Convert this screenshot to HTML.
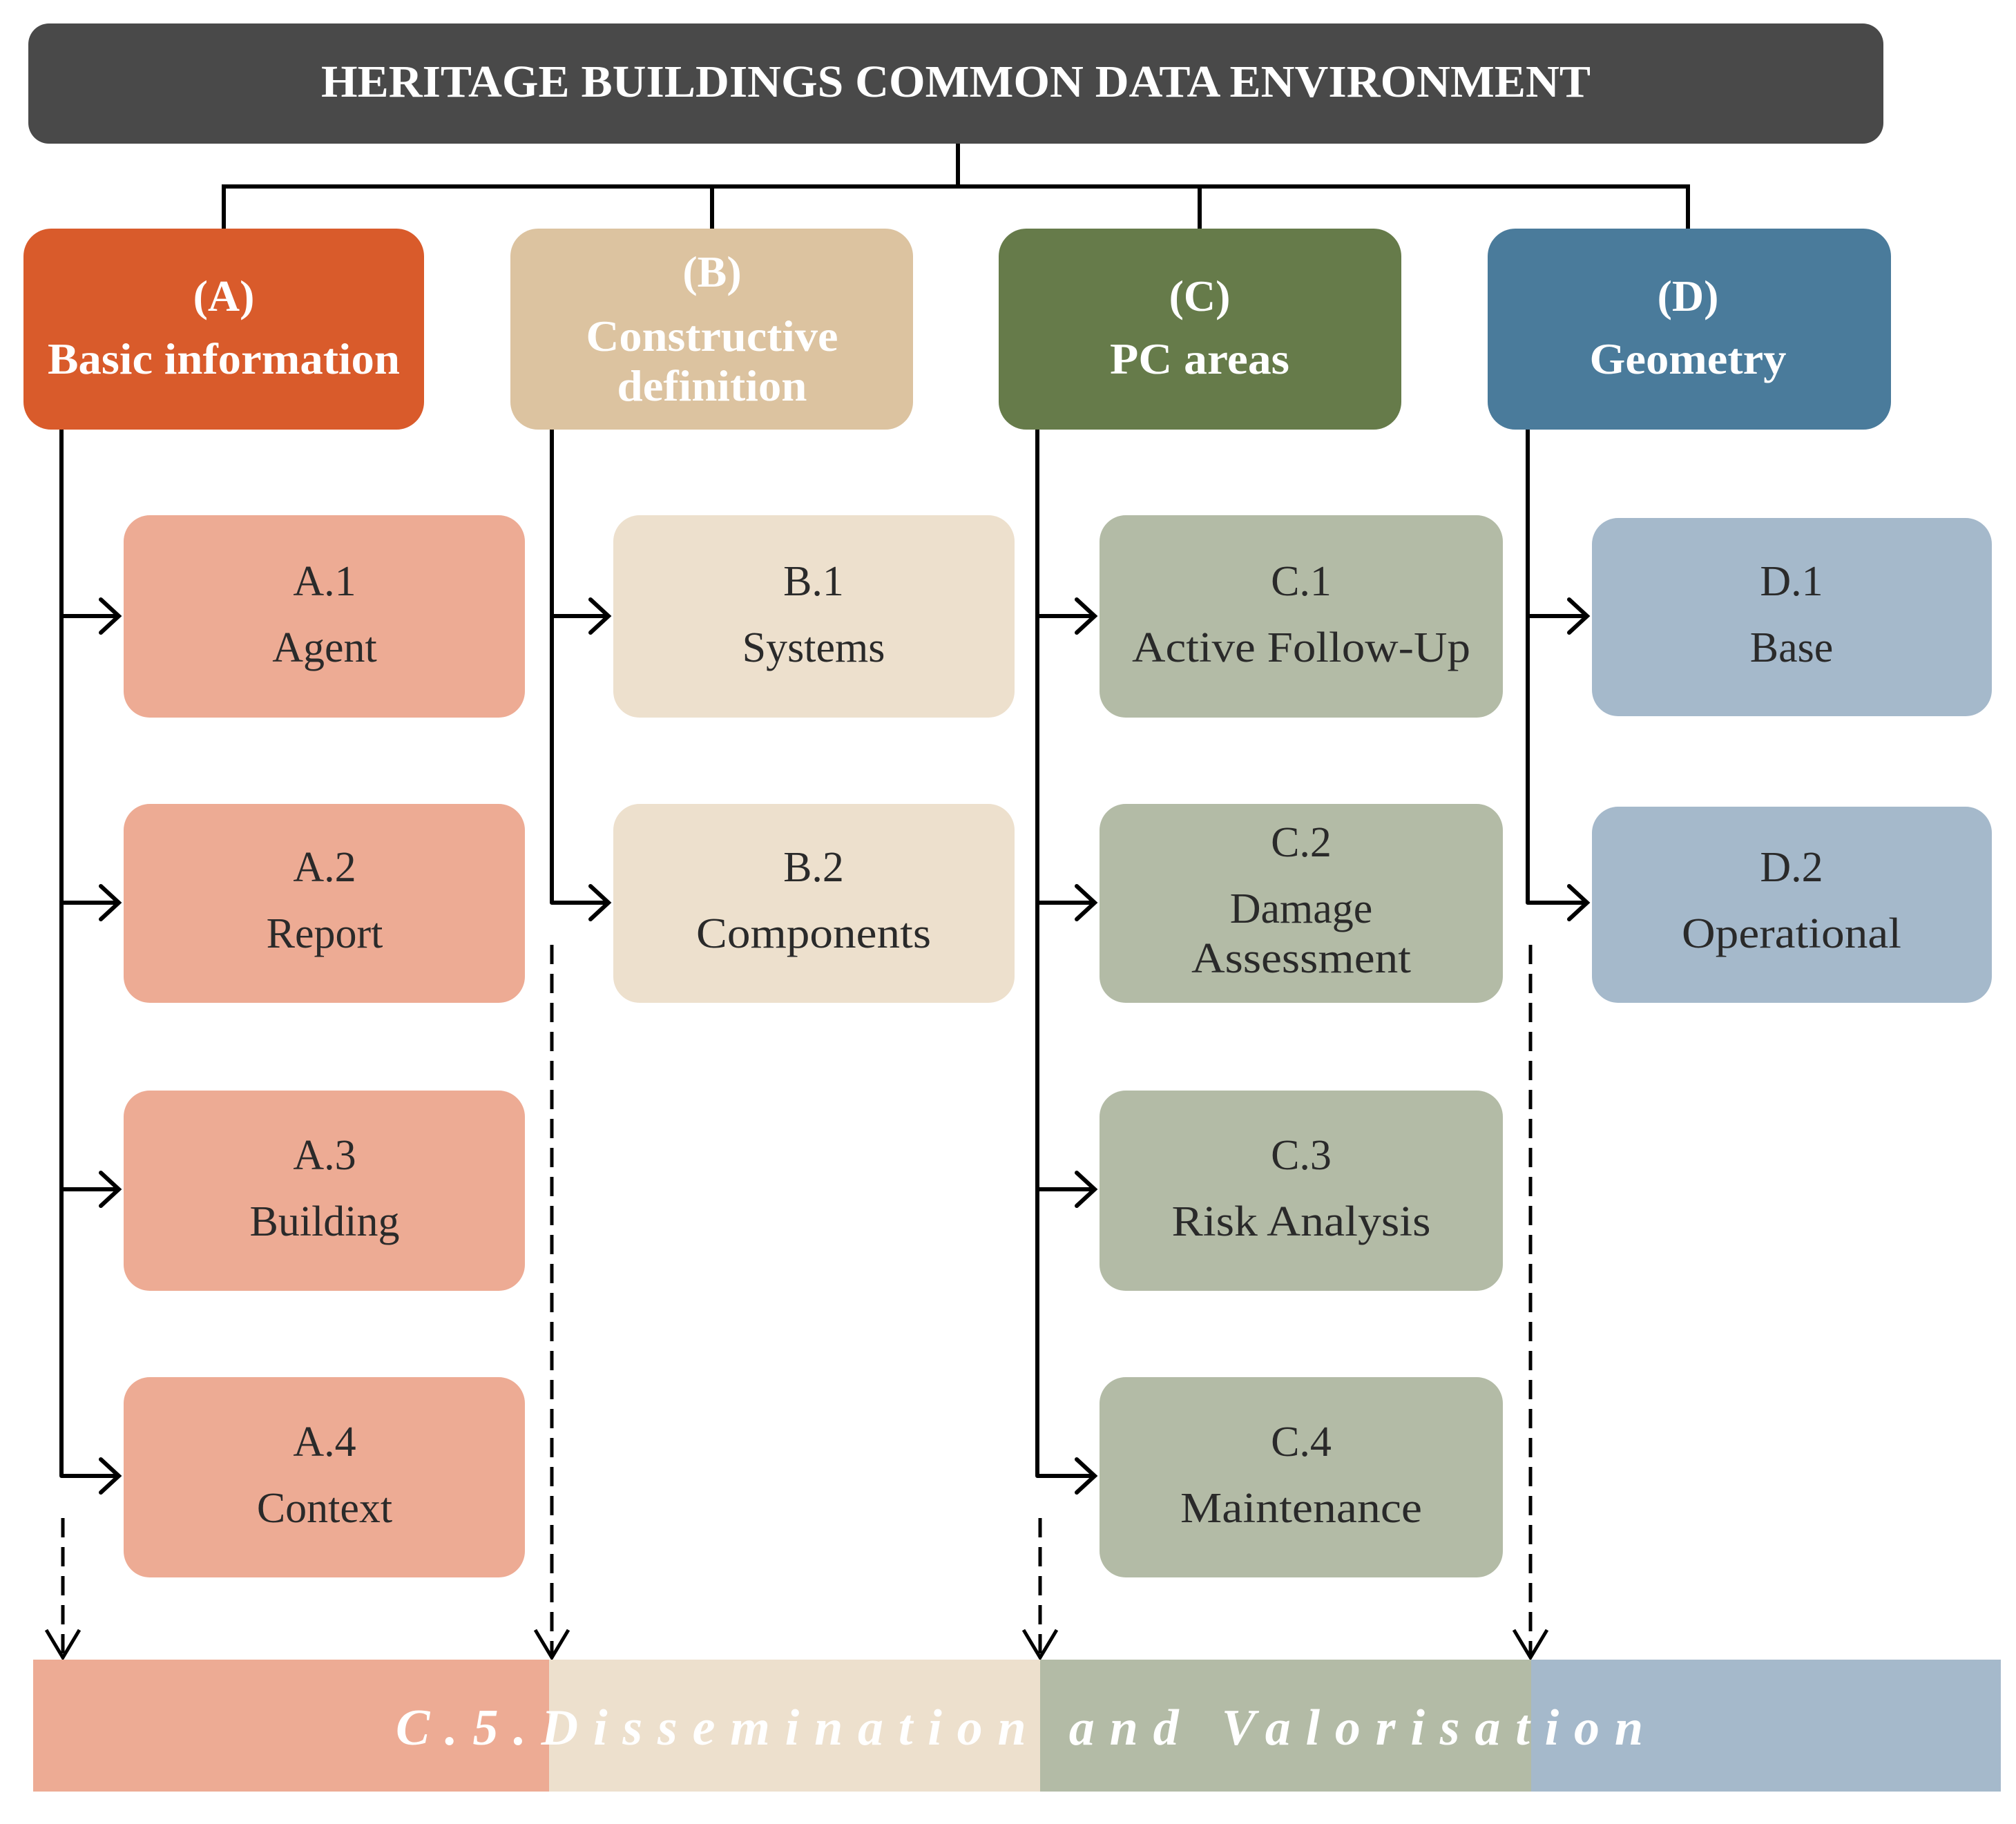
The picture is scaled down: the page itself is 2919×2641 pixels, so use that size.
<!DOCTYPE html>
<html><head><meta charset="utf-8"><style>html,body{margin:0;padding:0;background:#fff}svg{display:block}</style></head>
<body>
<svg xmlns="http://www.w3.org/2000/svg" width="2919" height="2641" viewBox="0 0 2919 2641">
<defs>
<marker id="ah" viewBox="0 0 20 20" refX="18" refY="10" markerWidth="7" markerHeight="7" markerUnits="userSpaceOnUse" orient="auto" overflow="visible">
<path d="M-18,-16 L18,10 L-18,36" fill="none" stroke="#000" stroke-width="5"/>
</marker>
</defs>
<!-- header -->
<rect x="41" y="34" width="2686" height="174" rx="30" fill="#494949"/>
<text x="1384" y="140" font-family="Liberation Serif, serif" font-weight="bold" font-size="66" fill="#fff" text-anchor="middle" textLength="1838" lengthAdjust="spacingAndGlyphs">HERITAGE BUILDINGS COMMON DATA ENVIRONMENT</text>
<!-- top connectors -->
<g stroke="#000" stroke-width="6" fill="none">
<path d="M1387,208 V270 M324,270 H2444 M324,267 V331 M1031,267 V331 M1737,267 V331 M2444,267 V331"/>
</g>
<!-- category boxes -->
<rect x="34" y="331" width="580" height="291" rx="40" fill="#d95b2b"/>
<rect x="739" y="331" width="583" height="291" rx="40" fill="#dcc3a0"/>
<rect x="1446" y="331" width="583" height="291" rx="40" fill="#667b4a"/>
<rect x="2154" y="331" width="584" height="291" rx="40" fill="#4a7b9b"/>
<g font-family="Liberation Serif, serif" font-weight="bold" fill="#fff" text-anchor="middle" font-size="64">
<text x="324" y="450">(A)</text>
<text x="324" y="541" textLength="510" lengthAdjust="spacingAndGlyphs">Basic information</text>
<text x="1031" y="415">(B)</text>
<text x="1031" y="508" textLength="365" lengthAdjust="spacingAndGlyphs">Constructive</text>
<text x="1031" y="580" textLength="275" lengthAdjust="spacingAndGlyphs">definition</text>
<text x="1737" y="450">(C)</text>
<text x="1737" y="541" textLength="260" lengthAdjust="spacingAndGlyphs">PC areas</text>
<text x="2444" y="450">(D)</text>
<text x="2444" y="541" textLength="285" lengthAdjust="spacingAndGlyphs">Geometry</text>
</g>
<!-- sub boxes -->
<g>
<rect x="179" y="746" width="581" height="293" rx="38" fill="#edab94"/>
<rect x="179" y="1164" width="581" height="288" rx="38" fill="#edab94"/>
<rect x="179" y="1579" width="581" height="290" rx="38" fill="#edab94"/>
<rect x="179" y="1994" width="581" height="290" rx="38" fill="#edab94"/>
<rect x="888" y="746" width="581" height="293" rx="38" fill="#ede0cd"/>
<rect x="888" y="1164" width="581" height="288" rx="38" fill="#ede0cd"/>
<rect x="1592" y="746" width="584" height="293" rx="38" fill="#b3bba6"/>
<rect x="1592" y="1164" width="584" height="288" rx="38" fill="#b3bba6"/>
<rect x="1592" y="1579" width="584" height="290" rx="38" fill="#b3bba6"/>
<rect x="1592" y="1994" width="584" height="290" rx="38" fill="#b3bba6"/>
<rect x="2305" y="750" width="579" height="287" rx="38" fill="#a5b9cb"/>
<rect x="2305" y="1168" width="579" height="284" rx="38" fill="#a5b9cb"/>
</g>
<g font-family="Liberation Serif, serif" fill="#2a2a2a" text-anchor="middle" font-size="62">
<text x="470" y="862">A.1</text><text x="470" y="958">Agent</text>
<text x="470" y="1276">A.2</text><text x="470" y="1372">Report</text>
<text x="470" y="1693">A.3</text><text x="470" y="1789">Building</text>
<text x="470" y="2108">A.4</text><text x="470" y="2204">Context</text>
<text x="1178" y="862">B.1</text><text x="1178" y="958">Systems</text>
<text x="1178" y="1276">B.2</text><text x="1178" y="1372" textLength="340" lengthAdjust="spacingAndGlyphs">Components</text>
<text x="1884" y="862">C.1</text><text x="1884" y="958" textLength="490" lengthAdjust="spacingAndGlyphs">Active Follow-Up</text>
<text x="1884" y="1240">C.2</text><text x="1884" y="1336">Damage</text><text x="1884" y="1408" textLength="318" lengthAdjust="spacingAndGlyphs">Assessment</text>
<text x="1884" y="1693">C.3</text><text x="1884" y="1789" textLength="375" lengthAdjust="spacingAndGlyphs">Risk Analysis</text>
<text x="1884" y="2108">C.4</text><text x="1884" y="2204" textLength="350" lengthAdjust="spacingAndGlyphs">Maintenance</text>
<text x="2594" y="862">D.1</text><text x="2594" y="958">Base</text>
<text x="2594" y="1276">D.2</text><text x="2594" y="1372" textLength="318" lengthAdjust="spacingAndGlyphs">Operational</text>
</g>
<!-- vertical solid lines -->
<g stroke="#000" stroke-width="6" fill="none">
<path d="M89,622 V2137"/>
<path d="M799,622 V1307"/>
<path d="M1502,622 V2137"/>
<path d="M2212,622 V1307"/>
</g>
<!-- horizontal arrows -->
<g stroke="#000" stroke-width="6" fill="none" stroke-linecap="round">
<path d="M89,892 H172 M146,868 L172,892 L146,916"/>
<path d="M89,1307 H172 M146,1283 L172,1307 L146,1331"/>
<path d="M89,1722 H172 M146,1698 L172,1722 L146,1746"/>
<path d="M89,2137 H172 M146,2113 L172,2137 L146,2161"/>
<path d="M799,892 H881 M855,868 L881,892 L855,916"/>
<path d="M799,1307 H881 M855,1283 L881,1307 L855,1331"/>
<path d="M1502,892 H1585 M1559,868 L1585,892 L1559,916"/>
<path d="M1502,1307 H1585 M1559,1283 L1585,1307 L1559,1331"/>
<path d="M1502,1722 H1585 M1559,1698 L1585,1722 L1559,1746"/>
<path d="M1502,2137 H1585 M1559,2113 L1585,2137 L1559,2161"/>
<path d="M2212,892 H2298 M2272,868 L2298,892 L2272,916"/>
<path d="M2212,1307 H2298 M2272,1283 L2298,1307 L2272,1331"/>
</g>
<!-- dashed down arrows -->
<g stroke="#000" stroke-width="5" fill="none">
<path d="M91,2198 V2398" stroke-dasharray="28,14"/>
<path d="M799,1368 V2398" stroke-dasharray="28,14"/>
<path d="M1506,2198 V2398" stroke-dasharray="28,14"/>
<path d="M2216,1368 V2398" stroke-dasharray="28,14"/>
<path d="M67,2360 L91,2400 L115,2360 M775,2360 L799,2400 L823,2360 M1482,2360 L1506,2400 L1530,2360 M2192,2360 L2216,2400 L2240,2360"/>
</g>
<!-- bottom bar -->
<rect x="48" y="2403" width="748" height="191" fill="#edab94"/>
<rect x="795" y="2403" width="712" height="191" fill="#ede0cd"/>
<rect x="1506" y="2403" width="712" height="191" fill="#b3bba6"/>
<rect x="2217" y="2403" width="680" height="191" fill="#a5b9cb"/>
<text x="573" y="2526" font-family="Liberation Serif, serif" font-weight="bold" font-style="italic" font-size="74" fill="#fff" textLength="1806" lengthAdjust="spacing">C.5.Dissemination  and  Valorisation</text>
</svg>
</body></html>
